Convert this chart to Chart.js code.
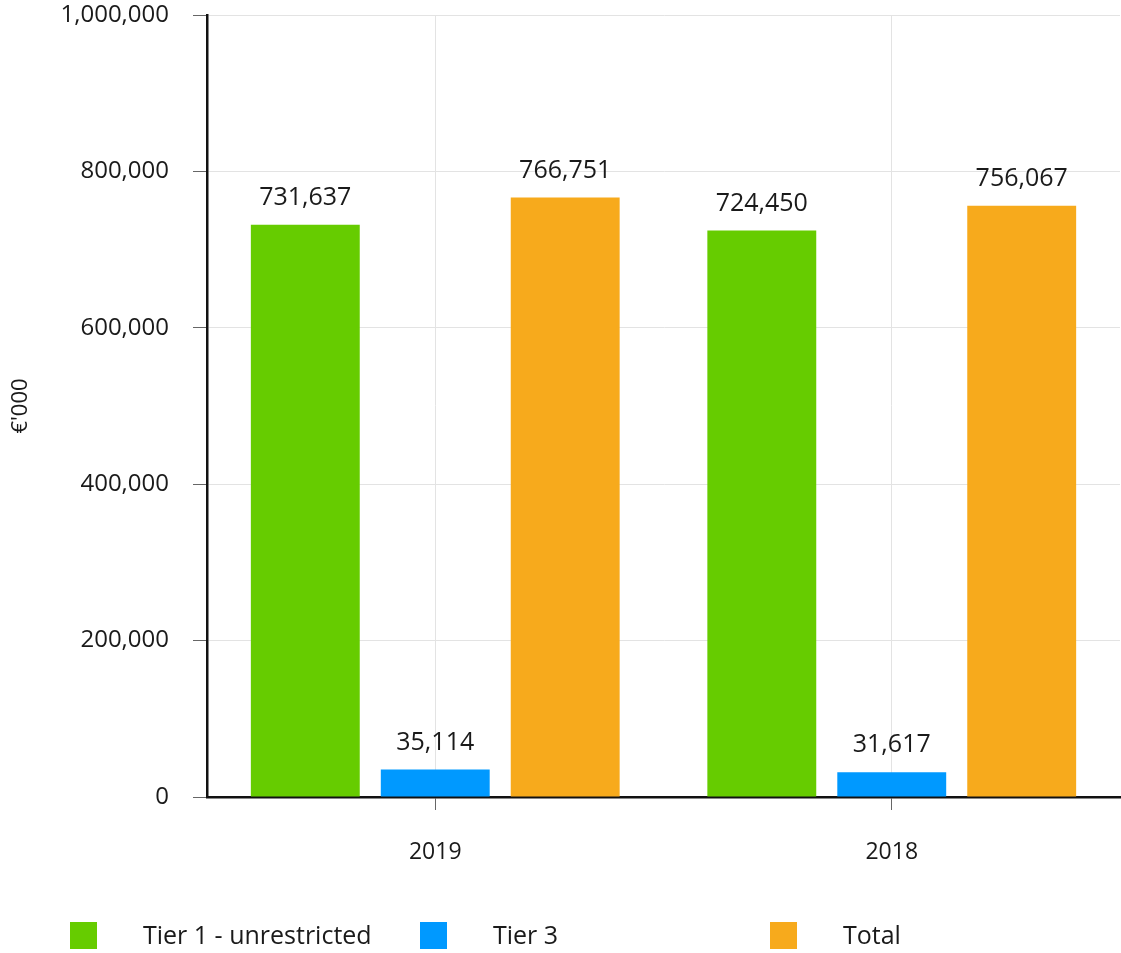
<!DOCTYPE html>
<html>
<head>
<meta charset="utf-8">
<script src="https://cdn.jsdelivr.net/npm/chart.js@4"></script>
<style>
  html, body { margin: 0; padding: 0; background: #fff; }
  #wrap { width: 1121px; height: 953px; position: relative; }
</style>
</head>
<body>
<div id="wrap"><canvas id="mychart"></canvas></div>
<script>
const years = ['2019', '2018'];
const tier1 = [731637, 724450];
const tier3 = [35114, 31617];
const total = [766751, 756067];
const seriesNames = ['Tier 1 - unrestricted', 'Tier 3', 'Total'];
const seriesColors = ['#66cc00', '#0099ff', '#f7aa1c'];
const yTicks = [0, 200000, 400000, 600000, 800000, 1000000];

const FONT = '"Open Sans", sans-serif';
const fmt = v => v.toLocaleString('en-US');

// value labels above bars
const barLabels = {
    id: 'barLabels',
    afterDatasetsDraw(chart) {
        const ctx = chart.ctx;
        ctx.save();
        ctx.font = '25px ' + FONT;
        ctx.fillStyle = '#1a1a1a';
        ctx.textAlign = 'center';
        ctx.textBaseline = 'middle';
        chart.data.datasets.forEach((ds, i) => {
            chart.getDatasetMeta(i).data.forEach((bar, j) => {
                ctx.fillText(fmt(ds.data[j]), bar.x, bar.y - 27);
            });
        });
        ctx.restore();
    }
};

// legend with fixed item spacing
const bottomLegend = {
    id: 'bottomLegend',
    afterDraw(chart) {
        const ctx = chart.ctx;
        ctx.save();
        ctx.font = '25px ' + FONT;
        ctx.textBaseline = 'middle';
        chart.data.datasets.forEach((ds, i) => {
            const x = 70 + i * 350;
            const y = 935;
            ctx.fillStyle = ds.backgroundColor;
            ctx.fillRect(x, y - 13, 27, 27);
            ctx.fillStyle = '#1a1a1a';
            ctx.fillText(ds.label, x + 73, y + 2);
        });
        ctx.restore();
    }
};

const ctx = document.querySelector('#mychart');

new Chart(ctx, {
    type: 'bar',
    data: {
        labels: years,
        datasets: [
            { label: seriesNames[0], data: tier1, backgroundColor: seriesColors[0] },
            { label: seriesNames[1], data: tier3, backgroundColor: seriesColors[1] },
            { label: seriesNames[2], data: total, backgroundColor: seriesColors[2] }
        ]
    },
    options: {
        responsive: true,
        maintainAspectRatio: false,
        animation: false,
        layout: { padding: { top: 15, right: 1, left: 0, bottom: 73 } },
        datasets: {
            bar: { categoryPercentage: 0.854, barPercentage: 0.838 }
        },
        plugins: {
            legend: { display: false },
            tooltip: { enabled: false }
        },
        scales: {
            x: {
                grid: {
                    offset: false,
                    color: '#e3e3e3',
                    tickColor: '#666',
                    tickLength: 13
                },
                border: { color: '#111', width: 2.5 },
                ticks: { padding: 29, color: '#1a1a1a', font: { family: FONT, size: 23 } },
                afterFit(scale) { scale.height = 83; }
            },
            y: {
                min: 0,
                max: 1000000,
                afterBuildTicks(scale) { scale.ticks = yTicks.map(v => ({ value: v })); },
                grid: { color: '#e3e3e3', tickColor: '#666', tickLength: 14 },
                border: { color: '#111', width: 2.5 },
                ticks: {
                    padding: 24,
                    color: '#1a1a1a',
                    font: { family: FONT, size: 24 },
                    callback: v => fmt(v)
                },
                title: {
                    display: true,
                    text: "€'000",
                    color: '#1a1a1a',
                    font: { family: FONT, size: 22 },
                    padding: { top: 8, bottom: 0 }
                },
                afterFit(scale) {
                    scale.width = 207;
                    scale.paddingTop = 0;
                    scale.paddingBottom = 0;
                }
            }
        }
    },
    plugins: [barLabels, bottomLegend]
});
</script>
</body>
</html>
